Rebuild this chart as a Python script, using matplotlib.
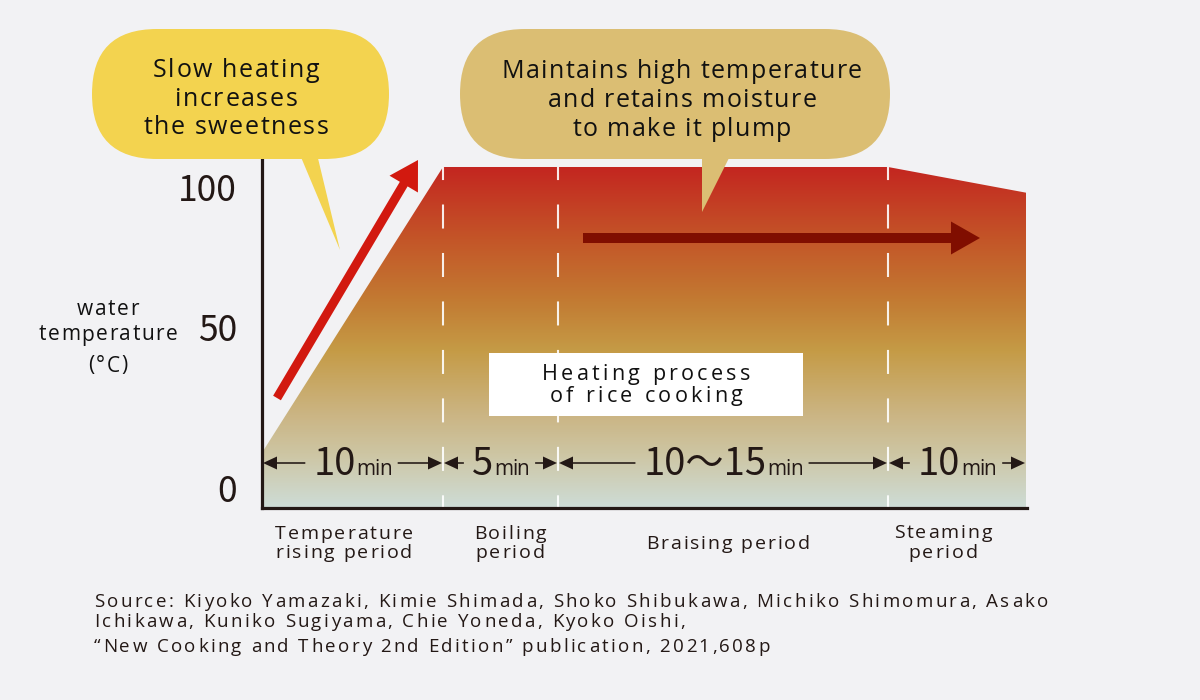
import numpy as np
import matplotlib
matplotlib.use("Agg")
import matplotlib.pyplot as plt
from matplotlib.colors import LinearSegmentedColormap
from matplotlib.patches import Polygon, FancyBboxPatch, FancyArrow, Rectangle
from matplotlib.transforms import ScaledTranslation
from matplotlib.font_manager import FontProperties

# ---------------- data ----------------
phase_names = [["Temperature", "rising period"], ["Boiling", "period"], ["Braising period"], ["Steaming", "period"]]
phase_durations = ["10", "5", "10〜15", "10"]
phase_edges = [0, 181, 296, 626, 764]          # schematic (not to scale) phase boundaries
profile_x = [0, 181, 626, 764]                  # schematic time positions of the temperature curve
profile_temp = [11, 100, 100, 92]               # water temperature (°C)
y_ticks = [0, 50, 100]
y_ticklabels = ["0", "50", "100"]
bubble_left = ["Slow heating", "increases", "the sweetness"]
bubble_right = ["Maintains high temperature", "and retains moisture", "to make it plump"]
box_text = ["Heating process", "of rice cooking"]
y_title = ["water", "temperature", "(°C)"]
source_lines = ["Source: Kiyoko Yamazaki, Kimie Shimada, Shoko Shibukawa, Michiko Shimomura, Asako",
                "Ichikawa, Kuniko Sugiyama, Chie Yoneda, Kyoko Oishi,",
                "\u201cNew Cooking and Theory 2nd Edition\u201d publication, 2021,608p"]

# ---------------- style ----------------
BG = "#F2F2F4"
INK = "#231815"
TXT_FONT = ["Open Sans", "DejaVu Sans"]
NUM_FONT = ["Noto Sans CJK JP", "DejaVu Sans"]
W, H = 1200, 700

plt.rcParams["lines.scale_dashes"] = False
fig = plt.figure(figsize=(W / 100, H / 100), dpi=100, facecolor=BG)
renderer = fig.canvas.get_renderer()

ax_l, ax_r, ax_t, ax_b = 262, 1027, 160, 508
ax = fig.add_axes([ax_l / W, 1 - ax_b / H, (ax_r - ax_l) / W, (ax_b - ax_t) / H])
ax.set_facecolor("none")
ax.set_xlim(0, 765)
ax.set_ylim(-6.23, 102.18)

# gradient-filled temperature profile
poly_x = [profile_x[0]] + profile_x + [profile_x[-1]]
poly_y = [-6.23] + profile_temp + [-6.23]
clip = Polygon(np.column_stack([poly_x, poly_y]), closed=True, facecolor="none", edgecolor="none")
ax.add_patch(clip)
stops = [(0.0, (206, 220, 214)), (0.16, (205, 197, 162)), (0.27, (203, 181, 132)),
         (0.46, (197, 155, 70)), (0.61, (194, 122, 50)), (0.79, (196, 85, 40)), (1.0, (195, 38, 32))]
cmap = LinearSegmentedColormap.from_list("heat", [(p, tuple(c / 255 for c in rgb)) for p, rgb in stops])
grad = np.linspace(0, 1, 400).reshape(-1, 1)
im = ax.imshow(grad, cmap=cmap, origin="lower", aspect="auto",
               extent=[0, 765, -6.23, 100], interpolation="bilinear", zorder=1)
im.set_clip_path(clip)

# dashed phase boundaries
for xe in phase_edges[1:4]:
    top = np.interp(xe, profile_x, profile_temp)
    ax.plot([xe, xe], [top, -6.23], color="white", alpha=0.9, lw=1.5,
            linestyle=(7.9, (17.3, 17.6)), zorder=2)

for s in ["top", "right"]:
    ax.spines[s].set_visible(False)
for s in ["left", "bottom"]:
    ax.spines[s].set_color(INK)
    ax.spines[s].set_linewidth(2.3)
    ax.spines[s].set_zorder(3)
ax.set_xticks([])
ax.set_yticks(y_ticks)
ax.set_yticklabels(y_ticklabels, fontsize=25.5, family=NUM_FONT, color=INK)
ax.tick_params(axis="y", length=0, pad=18)
for lab in ax.get_yticklabels():
    if lab.get_text() == "100":
        lab.set_transform(lab.get_transform() + ScaledTranslation(0, -0.2, fig.dpi_scale_trans))

# ---------------- overlay in pixel coordinates ----------------
ov = fig.add_axes([0, 0, 1, 1])
ov.set_xlim(0, W)
ov.set_ylim(H, 0)
ov.axis("off")
ov.patch.set_alpha(0)


def text_w(s, fp):
    if not s:
        return 0.0
    return renderer.get_text_width_height_descent(s, fp, ismath=False)[0]


def tracking_for(s, target, fontsize, family=TXT_FONT):
    fp = FontProperties(family=family, size=fontsize)
    return (target - text_w(s, fp)) / (len(s) - 1)


def tracked(s, x, y, fontsize, track, family=TXT_FONT, ha="center", color="black", zorder=6):
    """Draw s with extra letter spacing (px); y is the baseline."""
    fp = FontProperties(family=family, size=fontsize)
    bar = text_w("|", fp)
    pos = [0.0 if k == 0 else text_w(s[:k] + "|", fp) - bar for k in range(len(s))]
    total = text_w(s, fp) + track * (len(s) - 1)
    if ha == "center":
        x0 = x - total / 2
    elif ha == "right":
        x0 = x - total
    else:
        x0 = x
    for k, ch in enumerate(s):
        if ch == " ":
            continue
        ov.text(x0 + pos[k] + k * track, y, ch, fontsize=fontsize, family=family, color=color,
                ha="left", va="baseline", zorder=zorder)
    return total


# bubbles
YEL = "#F3D34F"
TAN = "#DBBE73"
ov.add_patch(FancyBboxPatch((92, 29), 297, 130, boxstyle="round,pad=0,rounding_size=65",
                            facecolor=YEL, edgecolor="none", zorder=4))
ov.add_patch(Polygon([(298, 150), (316, 150), (340, 250)], closed=True, facecolor=YEL, edgecolor="none", zorder=4))
tr = tracking_for(bubble_left[0], 166, 18)
for line, by in zip(bubble_left, [77, 105.5, 134]):
    tracked(line, 236, by, 18, tr, color="#111111")

ov.add_patch(FancyBboxPatch((460, 29), 430, 130, boxstyle="round,pad=0,rounding_size=65",
                            facecolor=TAN, edgecolor="none", zorder=4))
ov.add_patch(Polygon([(702, 150), (733, 150), (702, 212)], closed=True, facecolor=TAN, edgecolor="none", zorder=4))
tr = tracking_for(bubble_right[0], 360, 18)
for line, by in zip(bubble_right, [78, 107, 136]):
    tracked(line, 682, by, 18, tr, color="#111111")

# arrows
ov.add_patch(FancyArrow(277, 398, 418 - 277, 160 - 398, width=9, head_width=33, head_length=28,
                        length_includes_head=True, color="#D2190F", lw=0, zorder=4))
ov.add_patch(FancyArrow(583, 238, 980 - 583, 0, width=10, head_width=33, head_length=29,
                        length_includes_head=True, color="#800E00", lw=0, zorder=4))

# white box
ov.add_patch(Rectangle((489, 353), 314, 63, facecolor="white", edgecolor="none", zorder=4))
tr = tracking_for(box_text[0], 208, 15.5)
for line, by in zip(box_text, [380, 401.5]):
    tracked(line, 646, by, 15.5, tr, color="#111111")

# duration arrows
row_y = 463
base_y = 475
min_track = tracking_for("min", 35, 15)
min_fp = FontProperties(family=TXT_FONT, size=15)
for i, num in enumerate(phase_durations):
    x0 = ax.transData.transform((phase_edges[i], 0))[0]
    x1 = ax.transData.transform((phase_edges[i + 1], 0))[0]
    t1 = ov.text(0, base_y, num, fontsize=27.5, family=NUM_FONT, color=INK, va="baseline", ha="left", zorder=6)
    w1 = t1.get_window_extent(renderer).width
    w2 = text_w("min", min_fp) + 2 * min_track
    gap = 1
    total = w1 + gap + w2
    cx = (x0 + x1) / 2
    start = cx - total / 2
    t1.set_x(start)
    tracked("min", start + w1 + gap, base_y, 15, min_track, ha="left", color=INK)
    ov.add_patch(FancyArrow(start - 8, row_y, (x0 + 1) - (start - 8), 0, width=1.6, head_width=13,
                            head_length=14, length_includes_head=True, color=INK, lw=0, zorder=6))
    ov.add_patch(FancyArrow(start + total + 6, row_y, (x1 - 1) - (start + total + 6), 0, width=1.6,
                            head_width=13, head_length=14, length_includes_head=True, color=INK, lw=0, zorder=6))

# phase labels
label_x = [344, 510, 728, 943]
label_base = [[539, 558], [539, 558], [549], [538, 558]]
tr = tracking_for("Temperature", 138, 14)
for lines, lx, bases in zip(phase_names, label_x, label_base):
    for line, by in zip(lines, bases):
        tracked(line, lx, by, 14, tr, color=INK)

# y axis title
tr = tracking_for(y_title[1], 139, 15)
for line, by in zip(y_title, [315, 340.5, 371.5]):
    tracked(line, 108, by, 15, tr, color="#111111")

# source
tr = tracking_for(source_lines[0], 954, 13.5)
for line, by in zip(source_lines, [607, 627, 652]):
    tracked(line, 94, by, 13.5, tr, ha="left", color=INK)

fig.savefig("out.png", dpi=100, facecolor=BG)
